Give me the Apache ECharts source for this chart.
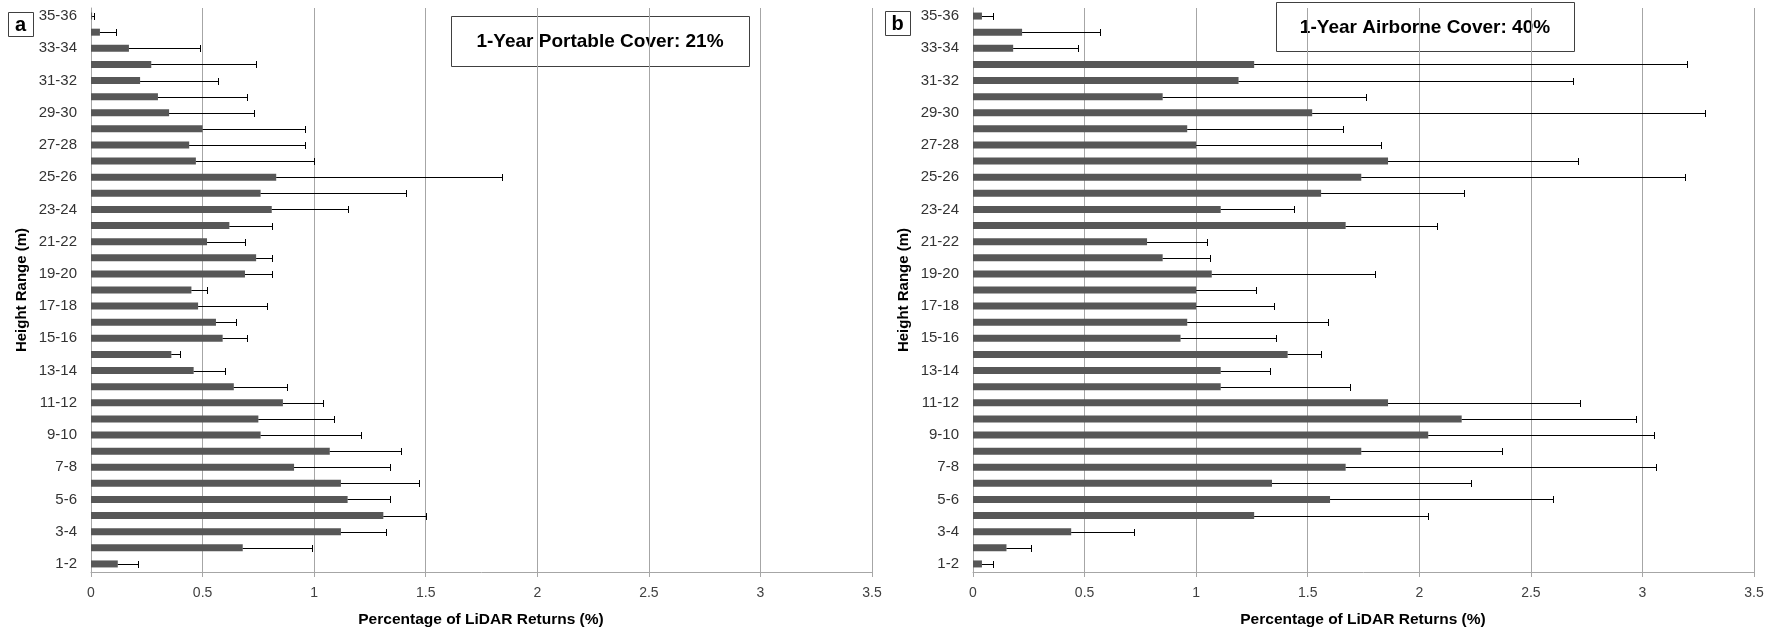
<!DOCTYPE html>
<html>
<head>
<meta charset="utf-8">
<script src="https://cdn.jsdelivr.net/npm/echarts@6/dist/echarts.min.js"></script>
<style>
html,body{margin:0;padding:0;background:#fff;}
#chart{width:1783px;height:634px;}
</style>
</head>
<body>
<div id="chart"></div>
<script>
// Height ranges, bottom (1-2) to top (35-36)
const categories = ['1-2','2-3','3-4','4-5','5-6','6-7','7-8','8-9','9-10','10-11','11-12','12-13','13-14','14-15','15-16','16-17','17-18','18-19','19-20','20-21','21-22','22-23','23-24','24-25','25-26','26-27','27-28','28-29','29-30','30-31','31-32','32-33','33-34','34-35','35-36'];

// Panel a: 1-Year Portable, mean % of LiDAR returns and upper end of error bar
const portableMean = [0.12,0.68,1.12,1.31,1.15,1.12,0.91,1.07,0.76,0.75,0.86,0.64,0.46,0.36,0.59,0.56,0.48,0.45,0.69,0.74,0.52,0.62,0.81,0.76,0.83,0.47,0.44,0.50,0.35,0.30,0.22,0.27,0.17,0.04,0.005];
const portableUpper = [0.21,0.99,1.32,1.50,1.34,1.47,1.34,1.39,1.21,1.09,1.04,0.88,0.60,0.40,0.70,0.65,0.79,0.52,0.81,0.81,0.69,0.81,1.15,1.41,1.84,1.00,0.96,0.96,0.73,0.70,0.57,0.74,0.49,0.11,0.012];

// Panel b: 1-Year Airborne
const airborneMean = [0.04,0.15,0.44,1.26,1.60,1.34,1.67,1.74,2.04,2.19,1.86,1.11,1.11,1.41,0.93,0.96,1.00,1.00,1.07,0.85,0.78,1.67,1.11,1.56,1.74,1.86,1.00,0.96,1.52,0.85,1.19,1.26,0.18,0.22,0.04];
const airborneUpper = [0.09,0.26,0.72,2.04,2.60,2.23,3.06,2.37,3.05,2.97,2.72,1.69,1.33,1.56,1.36,1.59,1.35,1.27,1.80,1.06,1.05,2.08,1.44,2.20,3.19,2.71,1.83,1.66,3.28,1.76,2.69,3.20,0.47,0.57,0.09];

const xTicks = {min:0, max:3.5, interval:0.5};
const panelTitles = ['1-Year Portable Cover: 21%', '1-Year Airborne Cover: 40%'];
const panelLetters = ['a', 'b'];
const xTitle = 'Percentage of LiDAR Returns (%)';
const yTitle = 'Height Range (m)';

const FONT = '"Liberation Sans", Arial, Helvetica, sans-serif';
const GRID_COLOR = '#a6a6a6';

const grids = [
  {left: 91, top: 8, width: 781, height: 564},
  {left: 973, top: 8, width: 781, height: 564}
];

function xAxisFor(i){
  return {
    type:'value', gridIndex:i, min:xTicks.min, max:xTicks.max, interval:xTicks.interval,
    axisLine:{show:true, lineStyle:{color:GRID_COLOR, width:1}},
    axisTick:{show:true, length:5, lineStyle:{color:GRID_COLOR}},
    splitLine:{show:true, lineStyle:{color:GRID_COLOR, width:1}},
    axisLabel:{color:'#404040', fontSize:14, fontFamily:FONT, margin:14}
  };
}
function yAxisFor(i){
  return {
    type:'category', gridIndex:i, data:categories,
    axisLine:{show:true, lineStyle:{color:GRID_COLOR, width:1}},
    axisTick:{show:false},
    splitLine:{show:false},
    axisLabel:{interval:1, color:'#333333', fontSize:15, fontFamily:FONT, margin:14}
  };
}

function errRender(params, api){
  const cat = api.value(0);
  const v = api.value(1);
  const hi = api.value(2);
  const p0 = api.coord([v, cat]);
  const p1 = api.coord([hi, cat]);
  const y = Math.round(p0[1]) + 0.5;
  const x1 = Math.round(p1[0]) + 0.5;
  return {
    type:'group',
    children:[
      {type:'line', shape:{x1:p0[0], y1:y, x2:x1, y2:y}, style:{stroke:'#000', lineWidth:1}},
      {type:'line', shape:{x1:x1, y1:y-3.5, x2:x1, y2:y+3.5}, style:{stroke:'#000', lineWidth:1}}
    ]
  };
}

function errData(mean, upper){
  return categories.map((c, i) => [i, mean[i], upper[i]]);
}

const series = [
  {type:'bar', xAxisIndex:0, yAxisIndex:0, data:portableMean, barWidth:7, itemStyle:{color:'#575757'}, silent:true, animation:false},
  {type:'custom', xAxisIndex:0, yAxisIndex:0, data:errData(portableMean, portableUpper), encode:{x:[1,2], y:0}, renderItem:errRender, silent:true, animation:false, z:3},
  {type:'bar', xAxisIndex:1, yAxisIndex:1, data:airborneMean, barWidth:7, itemStyle:{color:'#575757'}, silent:true, animation:false},
  {type:'custom', xAxisIndex:1, yAxisIndex:1, data:errData(airborneMean, airborneUpper), encode:{x:[1,2], y:0}, renderItem:errRender, silent:true, animation:false, z:3}
];

function boxText(x, y, w, h, txt, size){
  return {
    type:'group', z:100,
    children:[
      {type:'rect', shape:{x:x+0.5, y:y+0.5, width:w, height:h}, style:{fill:'#fff', stroke:'#404040', lineWidth:1}},
      {type:'text', x:x + w/2, y:y + h/2 + 1, style:{text:txt, font:'bold ' + size + 'px ' + FONT, fill:'#000', align:'center', verticalAlign:'middle'}}
    ]
  };
}

const graphic = [
  boxText(451, 16, 298, 50, panelTitles[0], 19),
  boxText(1276, 2, 298, 49, panelTitles[1], 19),
  boxText(8, 12, 25, 24, panelLetters[0], 20),
  boxText(885, 11, 25, 24, panelLetters[1], 20),
  {type:'text', x:22, y:290, rotation:Math.PI/2, style:{text:yTitle, font:'bold 15px ' + FONT, fill:'#000', align:'center', verticalAlign:'middle'}},
  {type:'text', x:904, y:290, rotation:Math.PI/2, style:{text:yTitle, font:'bold 15px ' + FONT, fill:'#000', align:'center', verticalAlign:'middle'}},
  {type:'text', x:481, y:620, style:{text:xTitle, font:'bold 15.5px ' + FONT, fill:'#000', align:'center', verticalAlign:'middle'}},
  {type:'text', x:1363, y:620, style:{text:xTitle, font:'bold 15.5px ' + FONT, fill:'#000', align:'center', verticalAlign:'middle'}}
];

const chart = echarts.init(document.getElementById('chart'), null, {renderer:'canvas'});
chart.setOption({
  animation:false,
  backgroundColor:'#fff',
  grid:grids,
  xAxis:[xAxisFor(0), xAxisFor(1)],
  yAxis:[yAxisFor(0), yAxisFor(1)],
  series:series,
  graphic:graphic
});
</script>
</body>
</html>
